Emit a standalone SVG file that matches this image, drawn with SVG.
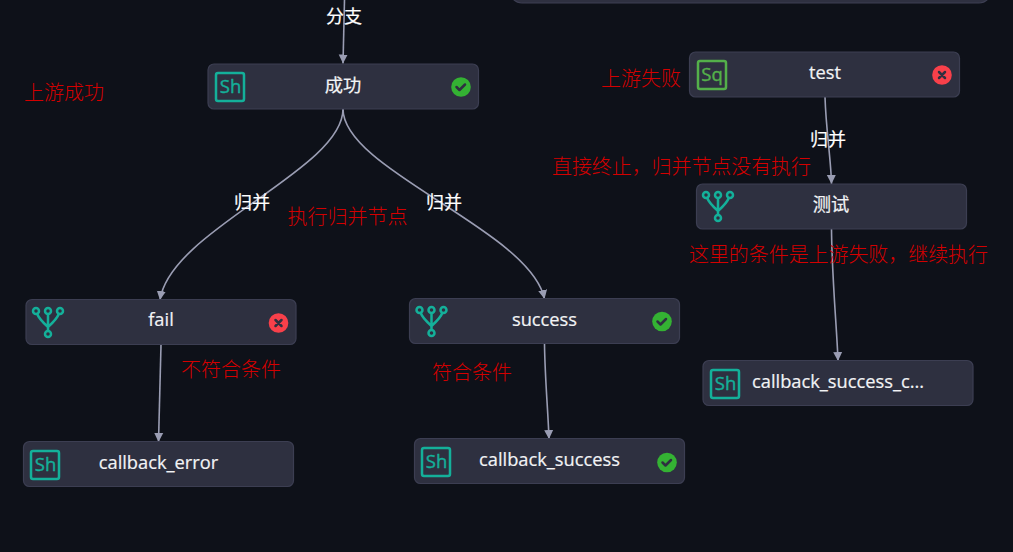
<svg xmlns="http://www.w3.org/2000/svg" width="1013" height="552" viewBox="0 0 1013 552">
<style>
.bg{fill:#0e1119}
.box{fill:#2e3040;stroke:#3c3e52;stroke-width:1.200}
.t{font-family:"Open Sans","Noto Sans CJK SC",sans-serif;font-size:18.300px;fill:#f2f3f5;text-anchor:middle;stroke:#f2f3f5;stroke-width:.2}
.l{font-family:"Noto Sans CJK SC",sans-serif;font-size:18px;fill:#fff;text-anchor:middle;stroke:#fff;stroke-width:.2}
.r{font-family:"Noto Sans CJK SC",sans-serif;font-size:20px;fill:#d40000;font-weight:300}
.e{fill:none;stroke:#9a9db3;stroke-width:1.600}
.ic{fill:none;stroke-width:2.500}
.sh{stroke:#14b09a}
.sq{stroke:#54b04a}
.it{font-family:"Open Sans",sans-serif;font-size:18.500px;text-anchor:middle;stroke-width:.4}
.ok{fill:#34b233}
.bad{fill:#f8404a}
.m{fill:none;stroke:#2e3040;stroke-width:2.500;stroke-linecap:round;stroke-linejoin:round}
</style>
<defs>
<marker id="a" markerUnits="userSpaceOnUse" markerWidth="11" markerHeight="11" refX="9" refY="5" orient="auto"><path d="M0 0.500L9 5L0 9.500Z" fill="#9a9db3"/></marker>
<g id="gw" class="ic sh" fill="none"><circle cx="-12" cy="-12" r="3"/><circle cx="0" cy="-12" r="3"/><circle cx="12" cy="-12" r="3"/><circle cx="0" cy="11" r="3"/><path d="M0 -9V8M-11 -9.500Q-9 -4 0 4Q9 -4 11 -9.500"/></g>
<g id="okm"><circle r="9.800" class="ok"/><path class="m" d="M-4.500 0L-1.500 3L4 -2.500"/></g>
<g id="badm"><circle r="9.800" class="bad"/><path class="m" d="M-3 -3L3 3M3 -3L-3 3"/></g>
</defs>
<rect class="bg" width="1013" height="552"/>
<g id="connectors">
<path class="e" d="M344.500 0L343 63.500" marker-end="url(#a)"/>
<path class="e" d="M343 109C343 170 170 230 160 300" marker-end="url(#a)"/>
<path class="e" d="M343 109C343 170 530 230 544.500 299" marker-end="url(#a)"/>
<path class="e" d="M161 345L158.500 442" marker-end="url(#a)"/>
<path class="e" d="M544.500 344C545 380 548 410 549 439" marker-end="url(#a)"/>
<path class="e" d="M825 97C826 130 831 160 831.500 184" marker-end="url(#a)"/>
<path class="e" d="M831.500 229C832 280 837 330 838 361" marker-end="url(#a)"/>
</g>
<g id="edge-labels">
<text class="l" x="344" y="23">分支</text>
<text class="l" x="252" y="209">归并</text>
<text class="l" x="444" y="209">归并</text>
<text class="l" x="828" y="146">归并</text>
</g>
<g id="node-top"><rect class="box" x="510" y="-40" width="481" height="43" rx="12"/></g>
<g id="node-chenggong"><rect class="box" x="208" y="64" width="270.500" height="45" rx="6"/>
<rect class="ic sh" x="216" y="73" width="28" height="28" rx="2"/><text class="it sh" x="230.500" y="93" fill="#14b09a">Sh</text>
<text class="t" x="343" y="92">成功</text><use href="#okm" x="461" y="87"/></g>
<g id="node-test"><rect class="box" x="689.500" y="52" width="270" height="45" rx="6"/>
<rect class="ic sq" x="698" y="61" width="28" height="28" rx="2"/><text class="it sq" x="712" y="81" fill="#54b04a">Sq</text>
<text class="t" x="825" y="79">test</text><use href="#badm" x="942" y="75"/></g>
<g id="node-ceshi"><rect class="box" x="696.500" y="184" width="270" height="45" rx="6"/><use href="#gw" x="718" y="207"/>
<text class="t" x="831" y="211">测试</text></g>
<g id="node-fail"><rect class="box" x="26" y="299.500" width="270" height="45" rx="6"/><use href="#gw" x="48" y="323"/>
<text class="t" x="161" y="326">fail</text><use href="#badm" x="278.500" y="323"/></g>
<g id="node-success"><rect class="box" x="409.500" y="298.500" width="270" height="45" rx="6"/><use href="#gw" x="431.500" y="322"/>
<text class="t" x="544.500" y="326">success</text><use href="#okm" x="662" y="321.500"/></g>
<g id="node-callback-error"><rect class="box" x="23.500" y="441.500" width="270" height="45" rx="6"/>
<rect class="ic sh" x="31" y="451" width="28" height="28" rx="2"/><text class="it sh" x="45.500" y="471" fill="#14b09a">Sh</text>
<text class="t" x="158.500" y="469">callback_error</text></g>
<g id="node-callback-success"><rect class="box" x="414.500" y="438.500" width="270" height="45" rx="6"/>
<rect class="ic sh" x="422" y="448" width="28" height="28" rx="2"/><text class="it sh" x="436.500" y="468" fill="#14b09a">Sh</text>
<text class="t" x="549.500" y="466">callback_success</text><use href="#okm" x="667" y="462.500"/></g>
<g id="node-callback-success-c"><rect class="box" x="703" y="360.500" width="270" height="45" rx="6"/>
<rect class="ic sh" x="711" y="370" width="28" height="28" rx="2"/><text class="it sh" x="725.500" y="390" fill="#14b09a">Sh</text>
<text class="t" x="752" y="388" style="text-anchor:start">callback_success_c...</text></g>
<g id="annotations">
<text class="r" x="24" y="100">上游成功</text>
<text class="r" x="601" y="86">上游失败</text>
<text class="r" x="552" y="174" textLength="259">直接终止，归并节点没有执行</text>
<text class="r" x="287.500" y="224">执行归并节点</text>
<text class="r" x="689" y="262" textLength="299">这里的条件是上游失败，继续执行</text>
<text class="r" x="181" y="377">不符合条件</text>
<text class="r" x="432" y="380">符合条件</text>
</g>
</svg>
